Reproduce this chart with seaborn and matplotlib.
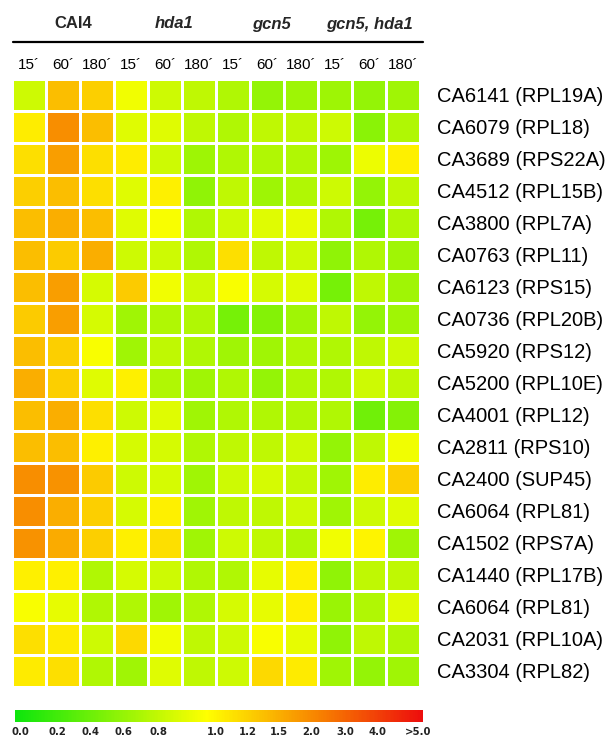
import numpy as np
import pandas as pd
import seaborn as sns
import matplotlib
matplotlib.use("Agg")
import matplotlib.pyplot as plt
import matplotlib.transforms as mtrans
from matplotlib.colors import LinearSegmentedColormap, Normalize
from matplotlib.cm import ScalarMappable
from matplotlib.lines import Line2D

# ---------------- data ----------------
genes = ["CA6141 (RPL19A)", "CA6079 (RPL18)", "CA3689 (RPS22A)", "CA4512 (RPL15B)",
         "CA3800 (RPL7A)", "CA0763 (RPL11)", "CA6123 (RPS15)", "CA0736 (RPL20B)",
         "CA5920 (RPS12)", "CA5200 (RPL10E)", "CA4001 (RPL12)", "CA2811 (RPS10)",
         "CA2400 (SUP45)", "CA6064 (RPL81)", "CA1502 (RPS7A)", "CA1440 (RPL17B)",
         "CA6064 (RPL81)", "CA2031 (RPL10A)", "CA3304 (RPL82)"]
strains = ["CAI4", "hda1", "gcn5", "gcn5, hda1"]
times = ["15\u00b4", "60\u00b4", "180\u00b4"]

# fold change per strain: rows = genes, columns = 15', 60', 180'
cai4 = [[0.83, 1.36, 1.22], [1.04, 1.95, 1.36], [1.12, 1.72, 1.12], [1.22, 1.36, 1.12],
        [1.36, 1.50, 1.36], [1.36, 1.25, 1.50], [1.36, 1.72, 0.85], [1.25, 1.72, 0.85],
        [1.36, 1.22, 0.95], [1.50, 1.22, 0.88], [1.36, 1.50, 1.12], [1.36, 1.36, 1.02],
        [1.95, 1.90, 1.25], [1.95, 1.50, 1.22], [1.90, 1.55, 1.22], [1.02, 1.02, 0.72],
        [0.95, 0.90, 0.72], [1.12, 1.05, 0.83], [1.05, 1.12, 0.72]]
hda1 = [[0.93, 0.83, 0.78], [0.88, 0.88, 0.78], [1.04, 0.83, 0.64], [0.88, 1.02, 0.58],
        [0.88, 0.95, 0.72], [0.83, 0.83, 0.72], [1.25, 0.93, 0.83], [0.65, 0.72, 0.72],
        [0.65, 0.78, 0.72], [1.02, 0.72, 0.65], [0.83, 0.88, 0.65], [0.85, 0.85, 0.72],
        [0.83, 0.85, 0.65], [0.85, 1.02, 0.65], [1.02, 1.12, 0.65], [0.85, 0.83, 0.72],
        [0.72, 0.65, 0.72], [1.15, 0.93, 0.78], [0.65, 0.88, 0.78]]
gcn5 = [[0.72, 0.60, 0.64], [0.72, 0.78, 0.78], [0.72, 0.72, 0.72], [0.78, 0.64, 0.72],
        [0.83, 0.88, 0.90], [1.12, 0.78, 0.83], [0.95, 0.85, 0.88], [0.45, 0.52, 0.65],
        [0.65, 0.65, 0.72], [0.72, 0.60, 0.72], [0.72, 0.72, 0.72], [0.78, 0.78, 0.83],
        [0.83, 0.85, 0.80], [0.78, 0.78, 0.83], [0.83, 0.78, 0.72], [0.72, 0.90, 1.02],
        [0.85, 0.90, 1.02], [0.83, 0.95, 0.90], [0.83, 1.15, 1.05]]
gcn5_hda1 = [[0.64, 0.60, 0.65], [0.83, 0.55, 0.72], [0.64, 0.92, 1.02], [0.83, 0.60, 0.78],
             [0.72, 0.45, 0.72], [0.58, 0.72, 0.65], [0.45, 0.78, 0.65], [0.78, 0.60, 0.65],
             [0.72, 0.78, 0.83], [0.72, 0.83, 0.78], [0.72, 0.42, 0.52], [0.60, 0.78, 0.93],
             [0.65, 1.04, 1.22], [0.65, 0.83, 0.88], [0.93, 1.00, 0.65], [0.58, 0.78, 0.78],
             [0.62, 0.72, 0.88], [0.58, 0.78, 0.72], [0.65, 0.60, 0.65]]

tick_values = [0.0, 0.2, 0.4, 0.6, 0.8, 1.0, 1.2, 1.5, 2.0, 3.0, 4.0, 5.0]
tick_labels = ["0.0", "0.2", "0.4", "0.6", "0.8", "1.0", "1.2", "1.5", "2.0", "3.0", "4.0", ">5.0"]

# ---------------- colour scale (non-linear legend) ----------------
tick_px = np.array([20, 57, 91, 123, 159, 216, 248, 279, 311, 345, 378, 418], dtype=float)
tick_pos = (tick_px - 15.0) / 408.0
cmap = LinearSegmentedColormap.from_list(
    "gyr", [(0.0, (0.05, 0.9, 0.05)), (0.47, (1.0, 1.0, 0.0)),
            (0.75, (0.97, 0.5, 0.0)), (1.0, (0.93, 0.05, 0.05))])

values = np.hstack([np.array(cai4), np.array(hda1), np.array(gcn5), np.array(gcn5_hda1)])
pos = np.interp(values, tick_values, tick_pos)
col_labels = [t for s in strains for t in times]
df = pd.DataFrame(pos, index=genes)

sns.set_theme(style="white")
plt.rcParams["font.family"] = ["Liberation Sans", "DejaVu Sans"]

W, H = 609, 738
fig = plt.figure(figsize=(W / 100, H / 100), dpi=100)
ax = fig.add_axes([12 / W, 1 - 687 / H, 408 / W, 608 / H])
sns.heatmap(df, cmap=cmap, vmin=0, vmax=1, cbar=False, linewidths=2, linecolor="white",
            xticklabels=col_labels, yticklabels=genes, ax=ax)
ax.xaxis.tick_top()
ax.yaxis.tick_right()
ax.tick_params(axis="x", length=0, pad=5, labelsize=11, labelrotation=0, colors="black")
ax.tick_params(axis="y", length=0, pad=12, labelsize=14.5, labelrotation=0, colors="black")
for lab in ax.get_yticklabels():
    lab.set_ha("left")

# group headers
tr = mtrans.blended_transform_factory(ax.transData, fig.transFigure)
group_x = [1.79, 4.77, 7.62, 10.5]
for s, gx in zip(strains, group_x):
    ax.text(gx, 1 - 28.5 / H, s, transform=tr, ha="center", va="baseline",
            fontsize=12, fontweight="bold", style="normal" if s == "CAI4" else "italic")
fig.add_artist(Line2D([13 / W, 423 / W], [1 - 41.5 / H, 1 - 41.5 / H],
                      transform=fig.transFigure, color="black", linewidth=1.6))

# colour legend
cax = fig.add_axes([15 / W, 1 - 722 / H, 408 / W, 12 / H])
cb = fig.colorbar(ScalarMappable(norm=Normalize(0, 1), cmap=cmap), cax=cax,
                  orientation="horizontal")
cb.outline.set_visible(False)
cb.set_ticks(tick_pos)
cb.set_ticklabels(tick_labels)
cax.tick_params(axis="x", length=0, pad=3.5)
for lab in cax.get_xticklabels():
    lab.set_fontfamily("DejaVu Sans")
    lab.set_fontweight("bold")
    lab.set_fontsize(7.3)
    lab.set_color("#222222")

fig.savefig("out.png", dpi=100)
